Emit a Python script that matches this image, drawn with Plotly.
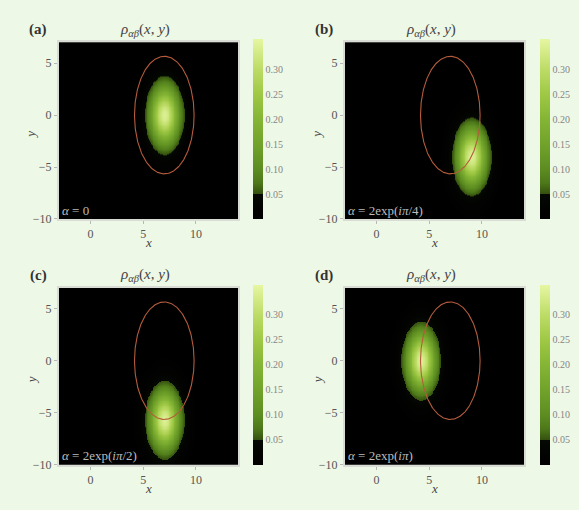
import numpy as np
import plotly.graph_objects as go

W, H = 579, 510

# Panel labels and coherent-state parameters
panel_tags = ["(a)", "(b)", "(c)", "(d)"]
alpha_labels = [
    "<i>α</i> = 0",
    "<i>α</i> = 2exp(<i>iπ</i>/4)",
    "<i>α</i> = 2exp(<i>iπ</i>/2)",
    "<i>α</i> = 2exp(<i>iπ</i>)",
]
# Wave-packet centres in the (x, y) plane
center_x = [7.0, 9.0, 7.0, 4.2]
center_y = [0.0, -4.0, -5.7, 0.0]
# Packet peak density and widths
peak_density = 0.345
sigma_x = 0.95
sigma_y = 1.92
# Classical orbit: ellipse centre and semi-axes
orbit_center = (7.0, 0.0)
orbit_semi_axes = (2.83, 5.66)

x_range = [-3, 14]
y_range = [-10, 7]
x_ticks = [0, 5, 10]
y_ticks = [-10, -5, 0, 5]
cbar_ticks = [0.05, 0.10, 0.15, 0.20, 0.25, 0.30]
z_max = 0.36

# Pixel boxes of each plot area: left, right, top, bottom
boxes = [(59, 238, 43, 222), (345, 524, 43, 222),
         (59, 238, 292, 471), (345, 524, 292, 471)]
cbar_left = [253, 540, 253, 540]

def px(xp):
    return xp / W

def py(yp):
    return 1 - yp / H

green_scale = [
    [0.0, "#000000"],
    [0.137, "#050803"],
    [0.139, "#34500f"],
    [0.2, "#4d7819"],
    [0.278, "#5d8d21"],
    [0.417, "#71a32b"],
    [0.556, "#85b535"],
    [0.694, "#9fc845"],
    [0.833, "#bddc66"],
    [1.0, "#e6f6a2"],
]

xs = np.arange(x_range[0], x_range[1] + 0.001, 0.08)
ys = np.arange(y_range[0], y_range[1] + 0.001, 0.08)
XX, YY = np.meshgrid(xs, ys)

t = np.linspace(0, 2 * np.pi, 361)
orbit_x = orbit_center[0] + orbit_semi_axes[0] * np.cos(t)
orbit_y = orbit_center[1] + orbit_semi_axes[1] * np.sin(t)

serif = "Liberation Serif, DejaVu Serif, serif"
fig = go.Figure()
annotations = []
layout_axes = {}

for i in range(4):
    L, R, T, B = boxes[i]
    xa = "x" if i == 0 else f"x{i+1}"
    ya = "y" if i == 0 else f"y{i+1}"
    xkey = "xaxis" if i == 0 else f"xaxis{i+1}"
    ykey = "yaxis" if i == 0 else f"yaxis{i+1}"

    rho = peak_density * np.exp(-((XX - center_x[i]) ** 2 / (2 * sigma_x ** 2)
                                  + (YY - center_y[i]) ** 2 / (2 * sigma_y ** 2)))

    fig.add_trace(go.Heatmap(
        x=xs, y=ys, z=rho, xaxis=xa, yaxis=ya,
        zmin=0, zmax=z_max, colorscale=green_scale, zsmooth="best",
        hoverinfo="skip",
        colorbar=dict(
            x=px(cbar_left[i]), xanchor="left", xpad=0, ypad=0,
            y=py((T + B) / 2 - 1.5), yanchor="middle",
            len=(B - T + 3) / H, lenmode="fraction",
            thickness=10, outlinewidth=0,
            tickvals=cbar_ticks, ticktext=[f"{v:.2f}" for v in cbar_ticks],
            ticks="", tickfont=dict(family=serif, size=10, color="#858585"),
        ),
    ))
    fig.add_trace(go.Scatter(
        x=orbit_x, y=orbit_y, xaxis=xa, yaxis=ya, mode="lines",
        line=dict(color="#b45c3c", width=1.1), hoverinfo="skip",
        showlegend=False,
    ))

    axis_common = dict(
        showgrid=False, zeroline=False, showline=True, mirror=True,
        linecolor="#d9dcd4", linewidth=2, ticks="outside", ticklen=3,
        tickcolor="#b8b8b8", tickfont=dict(family=serif, size=12, color="#555555"),
    )
    layout_axes[xkey] = dict(domain=[px(L), px(R)], range=x_range,
                             tickvals=x_ticks, anchor=ya, **axis_common)
    layout_axes[ykey] = dict(domain=[py(B), py(T)], range=y_range,
                             tickvals=y_ticks, anchor=xa, **axis_common)

    cx = (L + R) / 2
    annotations += [
        dict(text="<b>" + panel_tags[i] + "</b>", x=px(L - 21), y=py(T - 13),
             xref="paper", yref="paper", showarrow=False,
             font=dict(family=serif, size=15, color="#333333"),
             xanchor="center", yanchor="middle"),
        dict(text="<i>ρ</i><sub><i>αβ</i></sub>(<i>x</i>, <i>y</i>)",
             x=px(cx - 4), y=py(T - 13), xref="paper", yref="paper",
             showarrow=False, font=dict(family=serif, size=15, color="#444444"),
             xanchor="center", yanchor="middle"),
        dict(text="<i>x</i>", x=px(cx), y=py(B + 24), xref="paper", yref="paper",
             showarrow=False, font=dict(family=serif, size=13, color="#444444"),
             xanchor="center", yanchor="middle"),
        dict(text="<i>y</i>", x=px(L - 28), y=py((T + B) / 2 + 4), xref="paper",
             yref="paper", showarrow=False, textangle=-90,
             font=dict(family=serif, size=13, color="#444444"),
             xanchor="center", yanchor="middle"),
        dict(text=alpha_labels[i], x=px(L + 1), y=py(B - 9), xref="paper",
             yref="paper", showarrow=False,
             font=dict(family=serif, size=13, color="#bcbcbc"),
             xanchor="left", yanchor="middle"),
    ]

fig.update_layout(
    width=W, height=H, margin=dict(l=0, r=0, t=0, b=0),
    paper_bgcolor="#eef8e6", plot_bgcolor="#000000",
    showlegend=False, annotations=annotations, **layout_axes,
)

fig.write_html("out.html")
